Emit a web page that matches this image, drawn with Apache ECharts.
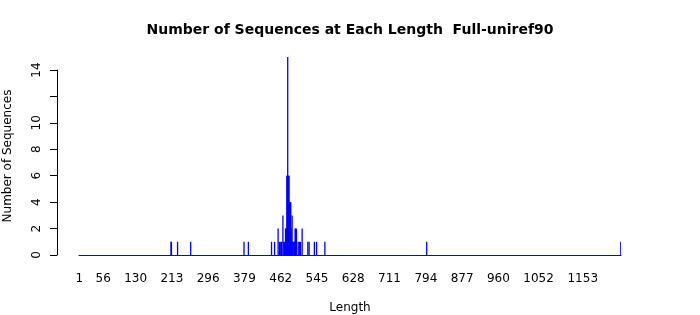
<!DOCTYPE html>
<html>
<head>
<meta charset="utf-8">
<script src="https://cdn.jsdelivr.net/npm/echarts@6/dist/echarts.min.js"></script>
<style>html,body{margin:0;padding:0;background:#fff}#c{width:700px;height:315px}</style>
</head>
<body>
<div id="c"></div>
<script>
// Sequence length range (categories 1..maxLength)
var maxLength = 1240;
// Observed lengths and their counts
var lengths = [211, 212, 226, 256, 378, 388, 441, 448, 456, 459, 462, 464, 467, 469, 471, 473, 474, 475, 476, 477, 478, 479, 480, 481, 482, 483, 484, 485, 486, 487, 488, 489, 490, 492, 494, 495, 496, 497, 498, 502, 505, 507, 511, 524, 527, 539, 544, 563, 796, 1240];
var counts  = [1,   1,   1,   1,   1,   1,   1,   1,   2,   1,   1,   1,   3,   1,   1,   2,   2,   2,   6,   6,   15,  6,   6,   6,   4,   4,   4,   4,   2,   1,   3,   1,   1,   1,   1,   2,   2,   1,   2,   1,   1,   1,   2,   1,   1,   1,   1,   1,   1,   1];
// Tick labels shown on the x axis
var xTickLabels = ['1', '56', '130', '213', '296', '379', '462', '545', '628', '711', '794', '877', '960', '1052', '1153'];
// Y axis ticks
var yTicks = [0, 2, 4, 6, 8, 10, 12, 14];
var yHiddenLabels = [12];

var categories = [];
var values = [];
for (var i = 1; i <= maxLength; i++) { categories.push(String(i)); values.push(0); }
for (var k = 0; k < lengths.length; k++) { values[lengths[k] - 1] = counts[k]; }

var font = 'DejaVu Sans';
var chart = echarts.init(document.getElementById('c'), null, {renderer: 'canvas'});
chart.setOption({
  animation: false,
  backgroundColor: '#fff',
  title: {
    text: 'Number of Sequences at Each Length  Full-uniref90',
    left: 'center', top: 18,
    textStyle: {fontFamily: font, fontSize: 14, fontWeight: 'bold', color: '#000'}
  },
  grid: [
    {left: 79, right: 79, top: 57, bottom: 60, outerBoundsMode: 'none', containLabel: false},
    {left: 57, right: 79, top: 70, bottom: 60, outerBoundsMode: 'none', containLabel: false}
  ],
  xAxis: [
    {
      gridIndex: 0, type: 'category', data: categories,
      name: 'Length', nameLocation: 'middle', nameGap: 47,
      nameTextStyle: {fontFamily: font, fontSize: 12, color: '#000'},
      axisLine: {lineStyle: {color: '#0000ff', width: 1}},
      axisTick: {show: false},
      axisLabel: {
        interval: function (idx, val) { return xTickLabels.indexOf(val) >= 0; },
        margin: 18, fontFamily: font, fontSize: 12, color: '#000'
      }
    },
    {gridIndex: 1, type: 'value', show: false, min: 0, max: 1}
  ],
  yAxis: [
    {
      gridIndex: 0, type: 'value', min: 0, max: 15,
      name: 'Number of Sequences', nameLocation: 'middle', nameGap: 65, nameRotate: 90,
      nameTextStyle: {fontFamily: font, fontSize: 12, color: '#000'},
      axisLine: {show: false}, axisTick: {show: false}, axisLabel: {show: false}, splitLine: {show: false}
    },
    {
      gridIndex: 1, type: 'value', min: yTicks[0], max: yTicks[yTicks.length - 1], interval: 2,
      axisLine: {show: true, lineStyle: {color: '#000', width: 1}},
      axisTick: {show: true, length: 7, lineStyle: {color: '#000'}},
      splitLine: {show: false},
      axisLabel: {
        rotate: 90, margin: 14, fontFamily: font, fontSize: 12, color: '#000',
        formatter: function (v) { return yHiddenLabels.indexOf(v) >= 0 ? '' : String(v); }
      }
    }
  ],
  series: [{
    type: 'bar', xAxisIndex: 0, yAxisIndex: 0,
    data: values, barWidth: 1.3,
    itemStyle: {color: '#0000ff'},
    silent: true
  }]
});
</script>
</body>
</html>
